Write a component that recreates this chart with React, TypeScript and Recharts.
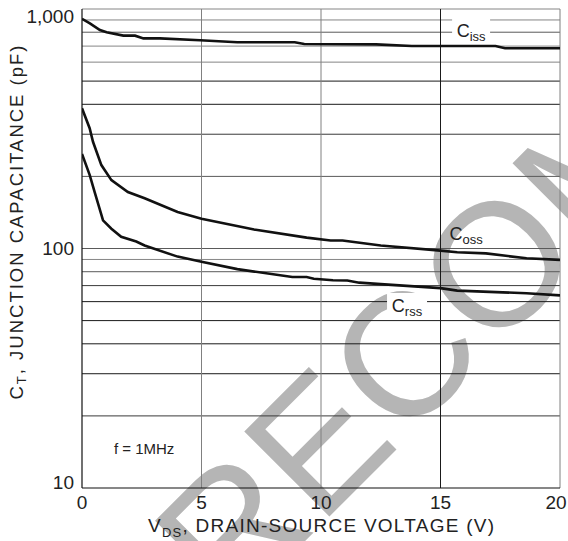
import React from 'react';
import { LineChart, Line, XAxis, YAxis, ReferenceLine, ReferenceDot, Label } from 'recharts';

const FONT = '"Liberation Sans", Arial, Helvetica, sans-serif';

// readings taken off the datasheet curves (V, pF)
const vdsIss = [0, 0.33, 0.75, 1.03, 1.73, 2.22, 2.57, 3.26, 4.94, 6.5, 8.9, 9.3, 12.3, 13.8, 17.3, 17.7, 20];
const cissPf = [910, 871, 817, 799, 774, 774, 754, 754, 740, 726, 726, 714, 712, 701, 701, 686, 686];

const vdsOss = [0, 0.32, 0.46, 0.81, 1.23, 1.92, 2.62, 4.0, 5.0, 7.2, 9.4, 10.4, 10.9, 12.5, 15.0, 15.7, 16.9, 18.6, 20];
const cossPf = [385, 318, 279, 223, 193, 172, 162, 142, 133, 120, 111, 108, 108, 103, 98, 96.5, 95.4, 91, 89.6];

const vdsRss = [0, 0.32, 0.53, 0.88, 1.23, 1.64, 2.27, 2.62, 4.0, 5.0, 6.5, 8.8, 9.4, 9.7, 10.5, 11.1, 11.6, 12.5, 15.0, 15.7, 17.6, 18.6, 20];
const crssPf = [248, 203, 172, 131, 121, 112, 107, 103, 92.5, 88, 82, 76, 76, 74.8, 73.7, 73.5, 72, 71, 68.3, 66.7, 65.6, 65, 63.7];

const xTicks = [0, 5, 10, 15, 20];
const yTicks = [10, 100, 1000];
const yTickLabels = ['10', '100', '1,000'];
const hGrid = [20, 30, 40, 50, 60, 70, 80, 90, 100, 200, 300, 400, 500, 600, 700, 800, 900, 1000];
const vGrid = [5, 10, 15, 20];

const toRows = (xs: number[], ys: number[]) => xs.map((v, i) => ({ vds: v, c: ys[i] }));

// the scanned grid mixes dark and light rules
const hTone = (v: number) => {
  if ([500, 400, 50, 40, 30, 60].includes(v)) return '#1a1a1a';
  if ([300, 70, 20].includes(v)) return '#3a3a3a';
  if ([800, 200, 80, 100].includes(v)) return '#5a5a5a';
  return '#858585';
};
const vTone = (v: number) => (v === 15 ? '#1a1a1a' : '#808080');

const YTick = (p: any) => {
  const v = p.payload.value;
  const nudge = v === 1000 ? 7 : v === 10 ? -6 : 0;
  return (
    <text x={p.x} y={p.y + nudge} textAnchor="end" dominantBaseline="central" fontSize={19} fill="#222" fontFamily={FONT}>
      {yTickLabels[yTicks.indexOf(v)]}
    </text>
  );
};

const XTick = (p: any) => {
  // the last label sits against the page edge
  const shift = p.payload.value === 20 ? -4 : 0;
  return (
    <text x={p.x + shift} y={p.y} dy="0.71em" textAnchor="middle" fontSize={19} fill="#222" fontFamily={FONT}>
      {p.payload.value}
    </text>
  );
};

const XTitle = (p: any) => {
  const vb = p.viewBox;
  return (
    <text x={vb.x + vb.width / 2} y={vb.y + 44} textAnchor="middle" fontSize={19} fill="#222" fontFamily={FONT} textLength={346} lengthAdjust="spacing">
      <tspan>V</tspan>
      <tspan fontSize={13} dy={5}>DS</tspan>
      <tspan dy={-5}>, DRAIN-SOURCE VOLTAGE (V)</tspan>
    </text>
  );
};

const YTitle = (p: any) => {
  const vb = p.viewBox;
  const cx = vb.x + 16;
  const cy = vb.y + vb.height / 2 - 26;
  return (
    <text x={cx} y={cy} transform={`rotate(-90 ${cx} ${cy})`} textAnchor="middle" dominantBaseline="central" fontSize={18.5} fill="#222" fontFamily={FONT} textLength={354} lengthAdjust="spacing">
      <tspan>C</tspan>
      <tspan fontSize={13} dy={5}>T</tspan>
      <tspan dy={-5}>, JUNCTION CAPACITANCE (pF)</tspan>
    </text>
  );
};

const curveTag = (sub: string, padW: number) => (p: any) => (
  <g>
    {padW > 0 && <rect x={p.cx - padW / 2} y={p.cy - 12} width={padW} height={22} fill="#fff" />}
    <text x={p.cx} y={p.cy + 7} textAnchor="middle" fontSize={18} fill="#222" fontFamily={FONT}>
      <tspan>C</tspan>
      <tspan fontSize={13} dy={4}>{sub}</tspan>
    </text>
  </g>
);

const freqNote = (p: any) => (
  <text x={p.cx} y={p.cy} textAnchor="middle" dominantBaseline="central" fontSize={15} fill="#222" fontFamily={FONT}>
    f = 1MHz
  </text>
);

export default function App() {
  return (
    <div style={{ position: 'absolute', left: 0, top: 0, width: 568, height: 541, background: '#fff', overflow: 'hidden' }}>
      <svg width={568} height={541} style={{ position: 'absolute', left: 0, top: 0 }}>
        <text x={230} y={616} transform="rotate(-45 230 616)" fontSize={175} fill="#b5b5b5" fontFamily={FONT}>
          RECOMMENDED
        </text>
      </svg>
      <div style={{ position: 'absolute', left: 0, top: 0 }}>
        <LineChart width={568} height={541} margin={{ top: 9, right: 8, left: 0, bottom: 0 }}>
          <XAxis
            dataKey="vds"
            type="number"
            domain={[0, 20]}
            ticks={xTicks}
            allowDataOverflow
            height={53}
            tickSize={0}
            tickMargin={8}
            tickLine={false}
            axisLine={{ stroke: '#111', strokeWidth: 1.2 }}
            tick={<XTick />}
          >
            <Label content={<XTitle />} />
          </XAxis>
          <YAxis
            type="number"
            scale="log"
            domain={[10, 1000]}
            ticks={yTicks}
            allowDataOverflow
            width={82}
            tickSize={0}
            tickMargin={8}
            tickLine={false}
            axisLine={{ stroke: '#111', strokeWidth: 1.2 }}
            tick={<YTick />}
          >
            <Label content={<YTitle />} />
          </YAxis>

          {hGrid.map((v) => (
            <ReferenceLine key={`h${v}`} y={v} stroke={hTone(v)} strokeWidth={1} />
          ))}
          {vGrid.map((v) => (
            <ReferenceLine key={`v${v}`} x={v} stroke={vTone(v)} strokeWidth={1} />
          ))}

          <Line data={toRows(vdsIss, cissPf)} dataKey="c" stroke="#111" strokeWidth={2.6} dot={false} type="linear" isAnimationActive={false} />
          <Line data={toRows(vdsOss, cossPf)} dataKey="c" stroke="#111" strokeWidth={2.6} dot={false} type="linear" isAnimationActive={false} />
          <Line data={toRows(vdsRss, crssPf)} dataKey="c" stroke="#111" strokeWidth={2.6} dot={false} type="linear" isAnimationActive={false} />

          <ReferenceDot x={16.28} y={817} shape={curveTag('iss', 38)} />
          <ReferenceDot x={16.07} y={116} shape={curveTag('oss', 0)} />
          <ReferenceDot x={13.6} y={58.1} shape={curveTag('rss', 40)} />
          <ReferenceDot x={2.6} y={14.55} shape={freqNote} />
        </LineChart>
      </div>
    </div>
  );
}
